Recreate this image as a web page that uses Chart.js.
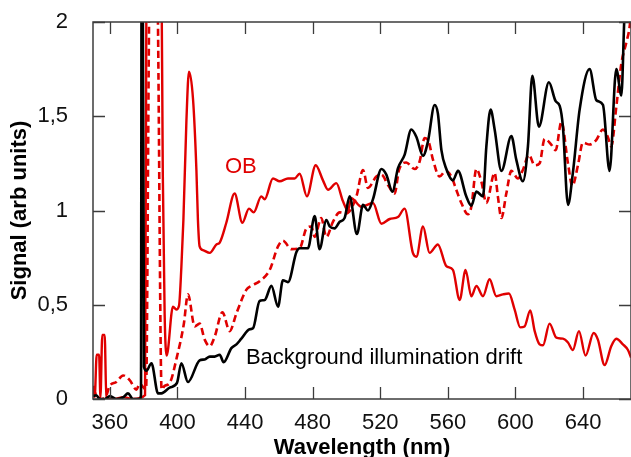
<!DOCTYPE html>
<html>
<head>
<meta charset="utf-8">
<script src="https://cdn.jsdelivr.net/npm/chart.js@4.4.1/dist/chart.umd.min.js"></script>
<style>
    html, body { margin: 0; padding: 0; background: #fff; }
</style>
</head>
<body>
<canvas id="spectrum" width="631" height="457"></canvas>
<script>
// Wavelength axis ticks (nm) and signal ticks
const wavelengthTicks = [360, 400, 440, 480, 520, 560, 600, 640];
const signalTicks = [0, 0.5, 1, 1.5, 2];

// Background illumination drift (black)
const driftNm = [350, 352, 354, 357, 360, 364, 368, 370.7, 373.7, 377.6, 378.4, 378.8, 379.3, 380.2, 381.6, 384.6, 388.5, 390.5, 395.4, 399.7,
    402.3, 406.2, 413.1, 416.1, 419.1, 422.0, 425.0, 427.3, 431.9, 434.9, 437.8, 442.7, 444.7, 448.6, 451.6, 455.6, 459.5, 462.4, 465.4, 470.4,
    472.3, 477.2, 481.2, 484.1, 488.1, 490.1, 493.0, 496.0, 498.9, 501.9, 506.2, 509.8, 512.7, 515.7, 520.7, 523.6, 527.2, 530.5, 534.4, 538.4,
    541.4, 545.3, 548.2, 552.2, 554.1, 556.2, 559.1, 563.0, 566.0, 570.9, 573.9, 576.9, 580.8, 582.8, 585.3, 587.7, 591.7, 597.6, 600.5, 604.4,
    607.4, 610.0, 613.9, 619.8, 623.8, 626.2, 628.1, 631.1, 634.0, 638.0, 643.9, 647.9, 651.8, 655.7, 659.7, 662.7, 664.6, 668.4];
const driftSignal = [0.015, 0.02, 0.0, 0.0, 0.015, 0.0, 0.01, 0.03, 0.0, 0.0, 0.02, 2.6, 2.6, 0.17, 0.15, 0.19, 0.03, 0.03, 0.06, 0.085,
    0.19, 0.09, 0.205, 0.21, 0.225, 0.225, 0.235, 0.195, 0.27, 0.29, 0.32, 0.37, 0.375, 0.52, 0.525, 0.6, 0.49, 0.63, 0.62, 0.78,
    0.8, 0.8, 0.97, 0.795, 0.95, 0.915, 0.905, 0.94, 0.96, 1.075, 0.875, 1.03, 1.0, 1.06, 1.22, 1.19, 1.1, 1.225, 1.295, 1.43,
    1.39, 1.29, 1.365, 1.56, 1.515, 1.32, 1.22, 1.16, 1.21, 1.075, 1.025, 1.1, 1.075, 1.34, 1.535, 1.43, 1.21, 1.395, 1.27, 1.155,
    1.34, 1.715, 1.445, 1.68, 1.58, 1.555, 1.445, 1.03, 1.2, 1.535, 1.75, 1.585, 1.56, 1.21, 1.75, 1.61, 2.05, 2.4];

// OB spectrum (red, solid)
const obNm = [350, 351, 352.2, 353.6, 354.4, 355.5, 356.9, 357.9, 362, 368, 374, 380.8, 381.7, 386, 390.4, 391.3, 392.4, 393.6, 397.3, 399.3,
    400.9, 402.3, 403.5, 405.3, 406.8, 409.2, 411.2, 412.1, 413.1, 415.1, 419.1, 423.1, 425.0, 428.9, 433.8, 438.4, 442.3, 445.1, 449.6, 451.6,
    456.5, 460.5, 465.4, 469.3, 472.3, 476.6, 481.8, 486.1, 489.1, 494.0, 497.9, 500.9, 502.9, 508.8, 515.7, 520.7, 525.6, 530.5, 534.4, 539.3,
    541.4, 545.3, 549.2, 554.1, 559.1, 563.0, 567.0, 570.5, 573.9, 576.9, 580.8, 584.7, 588.7, 592.6, 596.2, 599.5, 602.9, 605.4, 608.8, 611.4,
    614.3, 616.3, 620.2, 624.2, 628.1, 631.1, 634.0, 637.6, 641.5, 646.3, 648.8, 652.8, 656.7, 659.7, 663.6, 666.6, 668.4];
const obSignal = [0.07, 0.01, 0.235, 0.235, 0.01, 0.34, 0.34, 0.005, 0.0, 0.01, 0.0, 0.02, 2.4, 3.2, 2.4, 1.2, 0.45, 0.23, 0.49, 0.475,
    0.495, 0.70, 0.95, 1.48, 1.737, 1.59, 1.215, 0.95, 0.81, 0.79, 0.775, 0.82, 0.83, 0.935, 1.09, 0.935, 1.01, 0.99, 1.075, 1.06,
    1.17, 1.155, 1.17, 1.17, 1.195, 1.075, 1.24, 1.16, 1.11, 1.145, 1.05, 1.0, 1.065, 1.02, 1.04, 0.93, 0.955, 0.965, 1.01, 0.775,
    0.755, 0.915, 0.775, 0.82, 0.705, 0.685, 0.525, 0.685, 0.545, 0.6, 0.545, 0.635, 0.545, 0.555, 0.56, 0.475, 0.38, 0.385, 0.47, 0.36,
    0.29, 0.285, 0.40, 0.325, 0.32, 0.3, 0.26, 0.36, 0.23, 0.35, 0.315, 0.18, 0.28, 0.32, 0.29, 0.26, 0.22];

// Second spectrum (red, dashed)
const dashNm = [350, 352, 355, 357.5, 359.9, 363.8, 367.8, 371.7, 375.7, 377.6, 381.4, 383.3, 386, 388.3, 390.6, 392.4, 395.4, 399.7, 403.7, 406.2,
    410.2, 413.1, 416.1, 419.1, 422.0, 426.6, 430.9, 434.9, 440.8, 443.7, 448.6, 454.6, 459.5, 462.4, 467.4, 472.3, 476.3, 479.2, 481.2, 485.1,
    488.1, 492.0, 496.0, 499.9, 505.9, 509.8, 512.7, 517.7, 520.7, 524.6, 528.5, 531.1, 535.4, 540.4, 543.3, 546.3, 548.8, 551.2, 555.1, 558.7,
    562.1, 565.0, 568.0, 571.9, 573.9, 576.9, 579.8, 582.8, 587.7, 589.6, 591.7, 594.6, 597.6, 601.5, 604.4, 608.0, 611.4, 614.3, 617.3, 621.2,
    623.8, 627.2, 631.1, 633.7, 637.0, 639.9, 643.9, 647.9, 651.8, 654.7, 656.7, 659.7, 662.7, 665.6, 667.6, 668.4];
const dashSignal = [0.06, 0.02, 0.0, 0.01, 0.07, 0.09, 0.125, 0.10, 0.05, 0.08, 0.05, 2.1, 3.0, 2.1, 0.05, 0.07, 0.085, 0.225, 0.395, 0.555,
    0.385, 0.40, 0.315, 0.28, 0.33, 0.46, 0.36, 0.455, 0.58, 0.6, 0.625, 0.685, 0.81, 0.84, 0.795, 0.80, 0.905, 0.915, 0.86, 0.96,
    0.86, 0.94, 0.99, 0.985, 1.075, 1.215, 1.12, 1.18, 1.19, 1.135, 1.09, 1.215, 1.255, 1.22, 1.26, 1.385, 1.36, 1.27, 1.18, 1.21,
    1.18, 1.11, 1.04, 0.98, 1.02, 1.22, 1.155, 1.04, 1.2, 1.075, 0.96, 1.09, 1.21, 1.17, 1.215, 1.295, 1.24, 1.25, 1.38, 1.35,
    1.32, 1.47, 1.25, 1.13, 1.24, 1.36, 1.35, 1.375, 1.43, 1.39, 1.34, 1.55, 1.78, 1.89, 1.975, 2.05];

// Text labels anchored in data coordinates
const obLabel = { text: 'OB', nm: 437.5, signal: 1.233 };
const driftLabel = { text: 'Background illumination drift', nm: 440.5, signal: 0.217 };

const RED = '#e00000';
const FONT = '"Liberation Sans", Arial, Helvetica, sans-serif';
const TICK_LEN = 12;

const toPoints = (xs, ys) => xs.map((x, i) => ({ x: x, y: ys[i] }));

// Box frame, inward ticks on all four sides and the two curve labels
const framePlugin = {
    id: 'framePlugin',
    afterDatasetsDraw: function (chart) {
        const { ctx, chartArea: a, scales: { x, y } } = chart;
        ctx.save();
        ctx.strokeStyle = '#3c3c3c';
        ctx.lineWidth = 1.5;
        ctx.strokeRect(a.left, a.top, a.right - a.left, a.bottom - a.top);

        ctx.lineWidth = 1.3;
        ctx.beginPath();
        x.ticks.forEach(t => {
            const px = Math.round(x.getPixelForValue(t.value)) + 0.5;
            ctx.moveTo(px, a.bottom); ctx.lineTo(px, a.bottom - TICK_LEN);
            ctx.moveTo(px, a.top); ctx.lineTo(px, a.top + TICK_LEN);
        });
        y.ticks.forEach(t => {
            const py = Math.round(y.getPixelForValue(t.value)) + 0.5;
            ctx.moveTo(a.left, py); ctx.lineTo(a.left + TICK_LEN, py);
            ctx.moveTo(a.right, py); ctx.lineTo(a.right - TICK_LEN, py);
        });
        ctx.stroke();

        ctx.font = '22px ' + FONT;
        ctx.textBaseline = 'middle';
        ctx.fillStyle = RED;
        ctx.textAlign = 'center';
        ctx.fillText(obLabel.text, x.getPixelForValue(obLabel.nm), y.getPixelForValue(obLabel.signal));
        ctx.fillStyle = '#000';
        ctx.textAlign = 'left';
        ctx.fillText(driftLabel.text, x.getPixelForValue(driftLabel.nm), y.getPixelForValue(driftLabel.signal));
        ctx.restore();
    }
};

// Fixed axis boxes so the plot area sits at 93..631 x 22..399
const fixBox = size => scale => {
    if (scale.isHorizontal()) scale.height = size; else scale.width = size;
    scale.paddingTop = 0;
    scale.paddingBottom = 0;
    scale.paddingLeft = 0;
    scale.paddingRight = 0;
};

const ctx = document.getElementById('spectrum').getContext('2d');

new Chart(ctx, {
    type: 'line',
    data: {
        datasets: [
            {
                label: 'Background illumination drift',
                data: toPoints(driftNm, driftSignal),
                borderColor: '#000',
                borderWidth: 2.6
            },
            {
                label: 'Reference',
                data: toPoints(dashNm, dashSignal),
                borderColor: RED,
                borderWidth: 2.6,
                borderDash: [7, 4]
            },
            {
                label: 'OB',
                data: toPoints(obNm, obSignal),
                borderColor: RED,
                borderWidth: 2.4
            }
        ]
    },
    options: {
        responsive: false,
        animation: false,
        devicePixelRatio: 1,
        layout: { padding: { top: 22, right: 0, bottom: 0, left: 0 } },
        elements: {
            point: { radius: 0 },
            line: { cubicInterpolationMode: 'monotone', borderCapStyle: 'butt' }
        },
        plugins: {
            legend: { display: false },
            tooltip: { enabled: false }
        },
        scales: {
            x: {
                type: 'linear',
                min: 350,
                max: 668.4,
                afterBuildTicks: scale => { scale.ticks = wavelengthTicks.map(v => ({ value: v })); },
                afterFit: fixBox(58),
                grid: { display: false },
                border: { display: false },
                ticks: {
                    padding: 3,
                    color: '#111',
                    font: { family: FONT, size: 22 },
                    maxRotation: 0
                },
                title: {
                    display: true,
                    text: 'Wavelength (nm)',
                    color: '#000',
                    padding: { top: 0, bottom: -2 },
                    font: { family: FONT, size: 22, weight: 'bold', lineHeight: 1 }
                }
            },
            y: {
                min: 0,
                max: 2,
                afterBuildTicks: scale => { scale.ticks = signalTicks.map(v => ({ value: v })); },
                afterFit: fixBox(93),
                grid: { display: false },
                border: { display: false },
                ticks: {
                    padding: 17,
                    color: '#111',
                    font: { family: FONT, size: 22 },
                    callback: v => String(v).replace('.', ',')
                },
                title: {
                    display: true,
                    text: 'Signal (arb units)',
                    color: '#000',
                    padding: { top: 9, bottom: 0 },
                    font: { family: FONT, size: 22, weight: 'bold', lineHeight: 1 }
                }
            }
        }
    },
    plugins: [framePlugin]
});
</script>
</body>
</html>
